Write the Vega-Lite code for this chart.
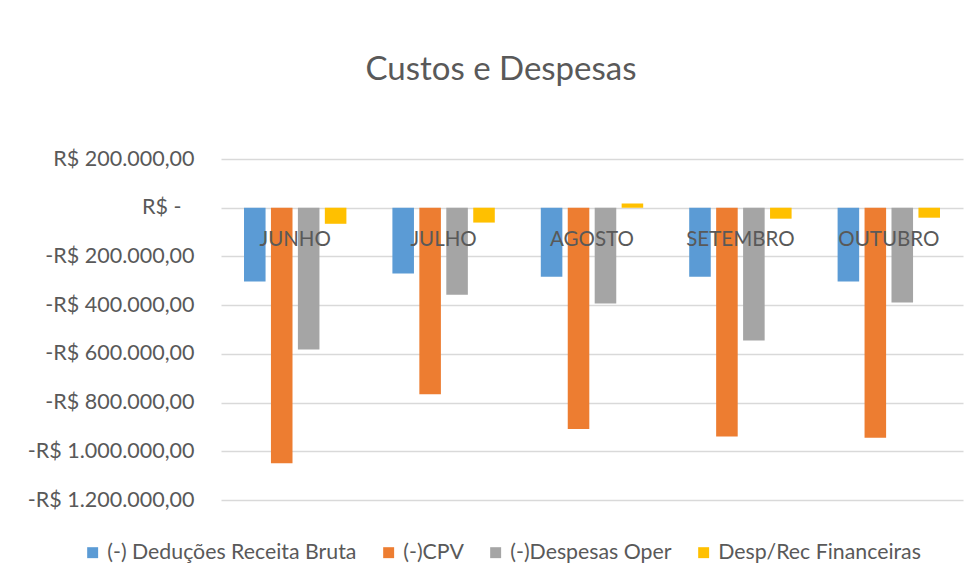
{
  "$schema": "https://vega.github.io/schema/vega-lite/v6.json",
  "width": 742,
  "height": 341,
  "autosize": {"type": "none"},
  "padding": {"left": 221, "top": 159, "right": 16, "bottom": 85},
  "background": "white",
  "title": {
    "text": "Custos e Despesas",
    "fontSize": 33,
    "font": "Lato",
    "fontWeight": "normal",
    "color": "#595959",
    "anchor": "middle",
    "dx": -91,
    "offset": 61
  },
  "datasets": {
    "custos": [
      {"mes": "JUNHO", "serie": "(-) Deduções Receita Bruta", "valor": -303000},
      {"mes": "JUNHO", "serie": "(-)CPV", "valor": -1049000},
      {"mes": "JUNHO", "serie": "(-)Despesas Oper", "valor": -582000},
      {"mes": "JUNHO", "serie": "Desp/Rec Financeiras", "valor": -66000},
      {"mes": "JULHO", "serie": "(-) Deduções Receita Bruta", "valor": -270000},
      {"mes": "JULHO", "serie": "(-)CPV", "valor": -766000},
      {"mes": "JULHO", "serie": "(-)Despesas Oper", "valor": -357000},
      {"mes": "JULHO", "serie": "Desp/Rec Financeiras", "valor": -61000},
      {"mes": "AGOSTO", "serie": "(-) Deduções Receita Bruta", "valor": -283000},
      {"mes": "AGOSTO", "serie": "(-)CPV", "valor": -908000},
      {"mes": "AGOSTO", "serie": "(-)Despesas Oper", "valor": -393000},
      {"mes": "AGOSTO", "serie": "Desp/Rec Financeiras", "valor": 17000},
      {"mes": "SETEMBRO", "serie": "(-) Deduções Receita Bruta", "valor": -283000},
      {"mes": "SETEMBRO", "serie": "(-)CPV", "valor": -939000},
      {"mes": "SETEMBRO", "serie": "(-)Despesas Oper", "valor": -545000},
      {"mes": "SETEMBRO", "serie": "Desp/Rec Financeiras", "valor": -45000},
      {"mes": "OUTUBRO", "serie": "(-) Deduções Receita Bruta", "valor": -303000},
      {"mes": "OUTUBRO", "serie": "(-)CPV", "valor": -944000},
      {"mes": "OUTUBRO", "serie": "(-)Despesas Oper", "valor": -389000},
      {"mes": "OUTUBRO", "serie": "Desp/Rec Financeiras", "valor": -41000}
    ],
    "meses": [
      {"mes": "JUNHO"},
      {"mes": "JULHO"},
      {"mes": "AGOSTO"},
      {"mes": "SETEMBRO"},
      {"mes": "OUTUBRO"}
    ]
  },
  "layer": [
    {
      "data": {"name": "custos"},
      "mark": {"type": "bar"},
      "encoding": {
        "x": {
          "field": "mes",
          "type": "nominal",
          "sort": ["JUNHO", "JULHO", "AGOSTO", "SETEMBRO", "OUTUBRO"],
          "scale": {"paddingInner": 0.31, "paddingOuter": 0.155},
          "axis": null
        },
        "xOffset": {
          "field": "serie",
          "type": "nominal",
          "sort": ["(-) Deduções Receita Bruta", "(-)CPV", "(-)Despesas Oper", "Desp/Rec Financeiras"],
          "scale": {"paddingInner": 0.2, "paddingOuter": 0}
        },
        "y": {
          "field": "valor",
          "type": "quantitative",
          "scale": {"domain": [-1200000, 200000], "nice": false, "zero": false},
          "axis": {
            "title": null,
            "values": [200000, 0, -200000, -400000, -600000, -800000, -1000000, -1200000],
            "domain": false,
            "ticks": false,
            "grid": true,
            "gridColor": "#d9d9d9",
            "gridWidth": 1.5,
            "labelFont": "Lato",
            "labelFontSize": 21.5,
            "labelColor": "#595959",
            "labelPadding": {"condition": {"test": "datum.value == 0", "value": 40}, "value": 27},
            "labelExpr": "datum.value == 0 ? 'R$ -' : (datum.value < 0 ? '-' : '') + 'R$ ' + replace(replace(replace(format(abs(datum.value), ',.2f'), regexp(',', 'g'), '#'), '.', ','), regexp('#', 'g'), '.')"
          }
        },
        "color": {
          "field": "serie",
          "type": "nominal",
          "sort": ["(-) Deduções Receita Bruta", "(-)CPV", "(-)Despesas Oper", "Desp/Rec Financeiras"],
          "scale": {
            "domain": ["(-) Deduções Receita Bruta", "(-)CPV", "(-)Despesas Oper", "Desp/Rec Financeiras"],
            "range": ["#5B9BD5", "#ED7D31", "#A5A5A5", "#FFC000"]
          },
          "legend": {
            "title": null,
            "orient": "none",
            "direction": "horizontal",
            "legendX": -139,
            "legendY": 383,
            "symbolType": "square",
            "symbolSize": 120,
            "symbolStrokeWidth": 0,
            "labelFont": "Lato",
            "labelFontSize": 21.3,
            "labelColor": "#595959",
            "labelOffset": 4,
            "columnPadding": 21,
            "labelLimit": 400
          }
        }
      }
    },
    {
      "data": {"name": "meses"},
      "mark": {"type": "text", "font": "Lato", "fontSize": 20.5, "color": "#595959", "baseline": "middle", "dy": 32},
      "encoding": {
        "x": {"field": "mes", "type": "nominal", "sort": ["JUNHO", "JULHO", "AGOSTO", "SETEMBRO", "OUTUBRO"]},
        "y": {"datum": 0, "type": "quantitative"},
        "text": {"field": "mes"}
      }
    }
  ],
  "config": {
    "view": {"stroke": null}
  }
}
